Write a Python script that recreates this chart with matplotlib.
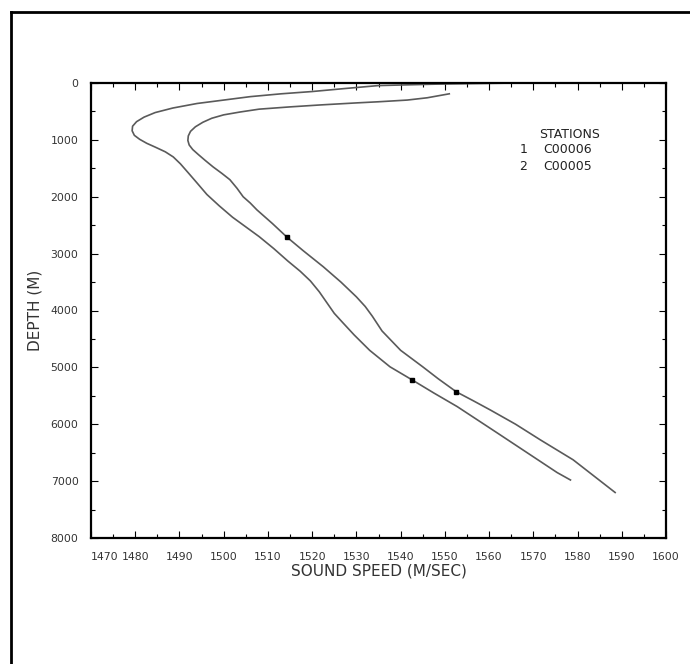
import matplotlib
matplotlib.use('Agg')
import matplotlib.pyplot as plt
from matplotlib.lines import Line2D
from matplotlib.ticker import MultipleLocator

# station 1 (left curve) : sound speed (m/s) vs depth (m)
speed_1 = [1566, 1548, 1535, 1527, 1520, 1513, 1506, 1500, 1494, 1488.5,
           1484.5, 1482, 1480.3, 1479.4, 1479.3, 1479.8, 1481, 1482.6,
           1484.6, 1486.8, 1488.6, 1490.2, 1492, 1494, 1496.2, 1499,
           1502, 1505, 1508, 1511.3, 1514.5, 1517.3, 1519.6, 1521.6, 1523.3,
           1525, 1527, 1529.5, 1533, 1537.6, 1542.6, 1547.5, 1552.8,
           1557.3, 1561.8, 1568.6, 1575.4, 1578.4]
depth_1 = [0, 20, 45, 100, 150, 190, 240, 300, 360, 440,
           520, 600, 680, 760, 840, 920, 990, 1060,
           1130, 1210, 1300, 1420, 1580, 1760, 1960, 2160,
           2360, 2530, 2700, 2910, 3130, 3310, 3480, 3670, 3860,
           4050, 4220, 4430, 4700, 4990, 5220, 5450, 5690,
           5920, 6150, 6500, 6850, 6980]

# station 2 (right curve)
speed_2 = [1551, 1546, 1541.5, 1535, 1530, 1522, 1515, 1508, 1503.7, 1500,
           1497.3, 1495.3, 1493.6, 1492.5, 1492, 1491.9, 1492.2, 1493,
           1494.3, 1495.8, 1497.6, 1499.6, 1501.4, 1503, 1504.4, 1506,
           1507.5, 1511, 1514.3, 1518, 1522.5, 1526.5, 1530, 1532, 1533.6,
           1535.8, 1540, 1545, 1548.5, 1552.6, 1556.5, 1560.3, 1566, 1571.6,
           1579, 1588.5]
depth_2 = [190, 260, 300, 330, 350, 385, 420, 460, 510, 560,
           620, 690, 770, 850, 930, 1010, 1090, 1170,
           1260, 1360, 1475, 1590, 1700, 1850, 2000, 2110,
           2230, 2470, 2710, 2950, 3230, 3500, 3760, 3930, 4100,
           4360, 4700, 4990, 5200, 5430, 5590, 5750, 6000, 6275,
           6625, 7200]

# marked samples
mark_speed = [1514.3, 1542.6, 1552.6]
mark_depth = [2710, 5220, 5430]

station_ids = ["C00006", "C00005"]
x_ticks = list(range(1470, 1601, 10))
y_ticks = list(range(0, 8001, 1000))

fig = plt.figure(figsize=(6.9, 6.64), dpi=100)
ax = fig.add_axes([91/690, 1-538/664, 575/690, 455/664])

line_col = '#5a5a5a'
ax.plot(speed_1, depth_1, color=line_col, lw=1.2)
ax.plot(speed_2, depth_2, color=line_col, lw=1.2)
ax.plot(mark_speed, mark_depth, 's', color='black', ms=3.5)

ax.set_xlim(1470, 1600)
ax.set_ylim(8000, 0)
ax.set_xticks(x_ticks)
ax.set_yticks(y_ticks)
ax.xaxis.set_minor_locator(MultipleLocator(5))
ax.yaxis.set_minor_locator(MultipleLocator(500))
ax.tick_params(which='both', direction='in', top=True, right=True,
               labelsize=7.8, labelcolor='#333333', width=0.8)
ax.tick_params(which='major', length=5)
ax.tick_params(which='minor', length=3)
ax.tick_params(axis='x', pad=10)
ax.tick_params(axis='y', pad=9)
for sp in ax.spines.values():
    sp.set_linewidth(1.6)

ax.set_xticklabels([str(t) for t in x_ticks])
ax.get_xticklabels()[0].set_horizontalalignment('left')

ax.set_xlabel('SOUND SPEED (M/SEC)', fontsize=11, color='#333333', labelpad=1)
ax.set_ylabel('DEPTH (M)', fontsize=11, color='#333333', labelpad=6)

ax.text(0.833, 0.886, 'STATIONS', transform=ax.transAxes, ha='center',
        va='center', fontsize=9, color='#222222')
for i, sid in enumerate(station_ids):
    y = 0.853 - i * 0.037
    ax.text(0.752, y, str(i + 1), transform=ax.transAxes, ha='center',
            va='center', fontsize=9, color='#222222')
    ax.text(0.786, y, sid, transform=ax.transAxes, ha='left',
            va='center', fontsize=9, color='#222222')

# page frame of the scanned figure
fy = 1 - 12/664
fx = 11/690
fig.add_artist(Line2D([fx, fx], [0, fy], color='black', lw=2, transform=fig.transFigure))
fig.add_artist(Line2D([fx, 1], [fy, fy], color='black', lw=2, transform=fig.transFigure))

fig.savefig('out.png', dpi=100)
